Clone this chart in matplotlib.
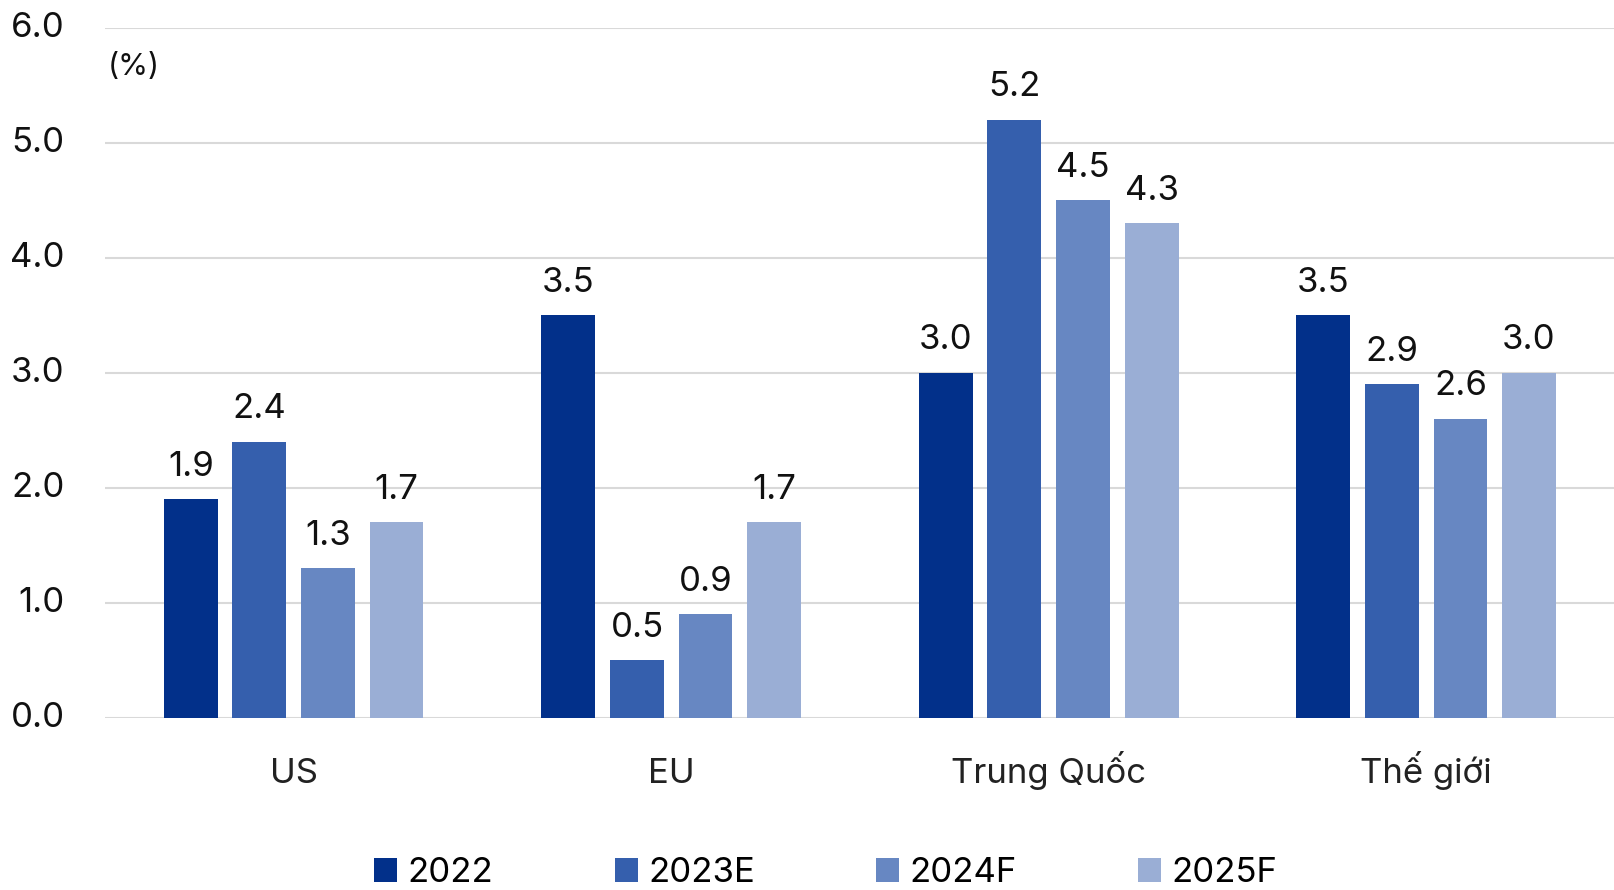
import matplotlib
matplotlib.use("Agg")
import matplotlib.pyplot as plt
from matplotlib.patches import Patch
import numpy as np

categories = ["US", "EU", "Trung Quốc", "Thế giới"]
series_names = ["2022", "2023E", "2024F", "2025F"]
v2022 = [1.9, 3.5, 3.0, 3.5]
v2023 = [2.4, 0.5, 5.2, 2.9]
v2024 = [1.3, 0.9, 4.5, 2.6]
v2025 = [1.7, 1.7, 4.3, 3.0]
yticks = [0.0, 1.0, 2.0, 3.0, 4.0, 5.0, 6.0]

colors = ["#02308A", "#355FAD", "#6787C2", "#9AAED5"]
FONT = ["Inter", "DejaVu Sans"]
plt.rcParams["font.family"] = FONT
FS = 25

fig = plt.figure(figsize=(16.15, 8.9), dpi=100)
ax = fig.add_axes([0.065, 0.1936, 0.935, 0.9689 - 0.1936])

x = np.arange(len(categories))
w = 0.143
step = 0.1815
offsets = [-1.5 * step, -0.5 * step, 0.5 * step, 1.5 * step]
for vals, off, c in zip([v2022, v2023, v2024, v2025], offsets, colors):
    bars = ax.bar(x + off, vals, width=w, color=c, zorder=3)
    for b, v in zip(bars, vals):
        ax.annotate(f"{v:.1f}", (b.get_x() + b.get_width() / 2, v),
                    xytext=(0, 17), textcoords="offset points",
                    ha="center", va="baseline", fontsize=FS, color="#111111")

ax.set_xlim(-0.5, 3.5)
ax.set_ylim(0, 6.0)
ax.set_yticks(yticks)
ax.set_yticklabels([f"{t:.1f}" for t in yticks], fontsize=FS, color="#111111")
ax.tick_params(axis="y", length=0, pad=29)
ax.set_xticks([])
for t in ax.get_yticklabels():
    t.set_verticalalignment("center")
ax.grid(axis="y", color="#D9D9D9", linewidth=1.5, zorder=0)
for s in ["top", "right", "left", "bottom"]:
    ax.spines[s].set_visible(False)

for xi, cat in zip(x, categories):
    ax.text(xi, -0.566, cat, ha="center", va="baseline", fontsize=FS, color="#222222")

ax.text(0.002, 5.66, "(%)", transform=ax.get_yaxis_transform(), ha="left",
        va="center", fontsize=22, color="#111111")

handles = [Patch(facecolor=c, edgecolor="none") for c in colors]
fig.legend(handles, series_names, loc="center left", bbox_to_anchor=(0.2316, 0.019),
           ncol=4, frameon=False, fontsize=FS, handlelength=0.66, handleheight=0.66,
           handletextpad=0.3, columnspacing=3.5, borderpad=0, borderaxespad=0)

fig.savefig("out.png", dpi=100)
